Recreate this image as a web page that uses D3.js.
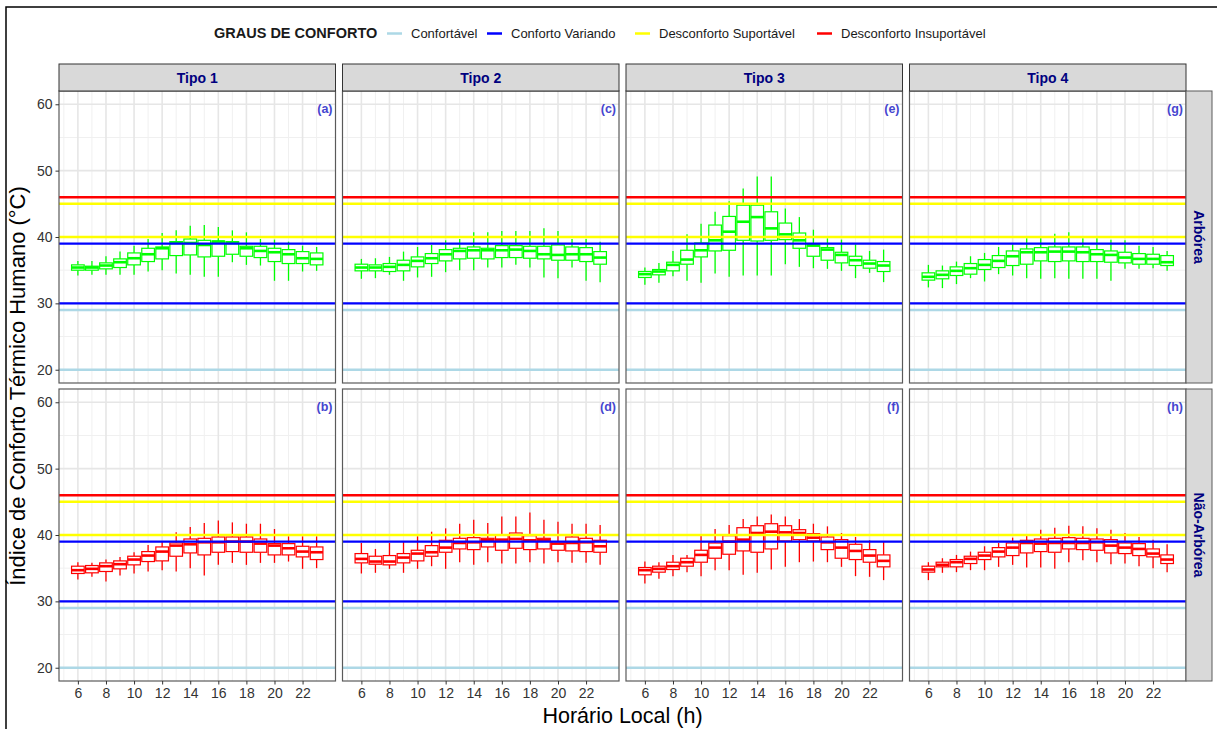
<!DOCTYPE html>
<html>
<head>
<meta charset="utf-8">
<script src="https://cdn.jsdelivr.net/npm/d3@7"></script>
<style>
  body { margin: 0; background: #fff; }
  svg { display: block; font-family: "Liberation Sans", Arial, sans-serif; }
</style>
</head>
<body>
<svg id="chart" width="1217" height="729"></svg>
<script>
// Hours of the day (local time) on the x axis
const hours = [6, 7, 8, 9, 10, 11, 12, 13, 14, 15, 16, 17, 18, 19, 20, 21, 22, 23];
const xTicks = [6, 8, 10, 12, 14, 16, 18, 20, 22];
const yTicks = [20, 30, 40, 50, 60];

const tipos = ["Tipo 1", "Tipo 2", "Tipo 3", "Tipo 4"];
const coberturas = ["Arbórea", "Não-Arbórea"];

// Comfort classes and their threshold lines (ºC)
const comfortLevels = ["Confortável", "Conforto Variando", "Desconforto Suportável", "Desconforto Insuportável"];
const comfortColors = ["#add8e6", "#0000ff", "#ffff00", "#ff0000"];
const comfortLimits = [[20, 29], [30, 39], [40, 45], [46]];

// Box statistics per hour: [lower whisker, Q1, median, Q3, upper whisker]
const arboreaTipo1 = [
  [34.2, 35.0, 35.4, 35.8, 36.4], [34.3, 35.0, 35.4, 35.6, 36.4], [34.3, 35.2, 35.7, 36.1, 37.1],
  [34.3, 35.4, 36.2, 36.7, 37.8], [34.3, 35.8, 36.8, 37.6, 38.7], [34.8, 36.3, 37.4, 38.3, 39.7],
  [35.0, 36.7, 38.3, 38.5, 40.6], [34.5, 37.2, 39.1, 39.3, 41.0], [34.3, 37.3, 39.1, 39.7, 41.7],
  [34.0, 37.0, 38.8, 39.5, 41.8], [34.0, 37.1, 39.3, 39.4, 41.5], [36.2, 37.4, 39.1, 39.3, 41.0],
  [35.8, 37.1, 38.3, 38.6, 40.7], [35.7, 36.9, 37.9, 38.6, 39.7], [33.4, 36.3, 37.7, 38.3, 39.6],
  [33.4, 36.0, 37.4, 38.1, 39.3], [34.8, 36.0, 36.8, 37.8, 38.7], [34.9, 35.8, 36.7, 37.6, 38.5]
];
const arboreaTipo2 = [
  [33.7, 34.9, 35.4, 35.9, 36.7], [33.8, 34.9, 35.4, 35.8, 36.8], [34.3, 34.8, 35.5, 36.0, 37.0],
  [33.4, 34.9, 35.8, 36.5, 37.8], [33.9, 35.5, 36.4, 37.0, 38.5], [34.0, 36.0, 36.8, 37.5, 38.8],
  [34.7, 36.4, 37.4, 38.1, 39.5], [35.0, 36.7, 37.9, 38.3, 39.7], [35.0, 36.8, 38.0, 38.5, 40.7],
  [35.4, 36.7, 38.0, 38.3, 40.7], [35.4, 36.9, 38.0, 38.7, 40.9], [35.8, 36.9, 38.1, 38.7, 40.9],
  [35.4, 36.8, 37.9, 38.6, 40.9], [33.9, 36.7, 37.4, 38.6, 41.3], [33.8, 36.5, 37.3, 38.8, 40.9],
  [35.4, 36.5, 37.4, 38.5, 39.7], [33.4, 36.3, 37.4, 38.4, 39.7], [33.2, 35.9, 36.9, 37.8, 39.3]
];
const arboreaTipo3 = [
  [32.8, 33.9, 34.4, 34.8, 35.4], [33.1, 34.3, 34.8, 35.1, 36.1], [34.1, 34.9, 35.8, 36.2, 37.9],
  [33.4, 35.9, 36.6, 38.0, 40.4], [33.1, 37.0, 38.0, 39.1, 42.0], [34.5, 37.9, 39.5, 41.8, 43.8],
  [34.0, 38.0, 40.8, 43.1, 45.4], [34.2, 39.5, 42.3, 44.8, 47.3], [34.2, 39.4, 43.0, 44.8, 49.1],
  [34.2, 39.5, 41.3, 43.8, 49.1], [35.9, 39.6, 40.4, 42.1, 44.3], [35.5, 38.3, 39.5, 40.6, 43.0],
  [35.3, 37.1, 38.7, 38.8, 41.1], [35.2, 36.5, 38.1, 38.4, 39.8], [34.9, 36.1, 37.3, 37.7, 39.6],
  [33.8, 35.7, 36.5, 37.1, 38.9], [34.6, 35.3, 36.0, 36.5, 37.9], [33.2, 34.8, 35.7, 36.3, 38.1]
];
const arboreaTipo4 = [
  [32.4, 33.5, 34.0, 34.6, 35.8], [32.3, 33.7, 34.3, 34.9, 35.7], [32.9, 34.2, 34.9, 35.5, 36.3],
  [33.8, 34.4, 35.3, 36.0, 37.1], [33.3, 35.1, 35.8, 36.6, 37.6], [34.4, 35.4, 36.4, 37.2, 38.5],
  [34.2, 35.7, 37.1, 37.9, 38.9], [33.8, 35.9, 37.7, 38.2, 39.8], [33.7, 36.4, 37.7, 38.4, 39.8],
  [33.8, 36.3, 37.8, 38.5, 40.5], [33.7, 36.4, 37.8, 38.5, 40.7], [33.7, 36.3, 37.7, 38.5, 39.8],
  [33.7, 36.3, 37.4, 38.1, 39.8], [33.4, 36.2, 37.3, 37.9, 39.6], [35.2, 36.1, 36.9, 37.7, 39.5],
  [35.2, 35.9, 36.7, 37.5, 38.7], [35.3, 35.9, 36.7, 37.4, 38.5], [34.9, 35.7, 36.2, 37.2, 37.9]
];
const naoArboreaTipo1 = [
  [33.3, 34.2, 34.7, 35.3, 35.9], [33.7, 34.3, 34.9, 35.4, 35.8], [33.0, 34.5, 35.3, 35.8, 36.3],
  [33.9, 34.9, 35.6, 36.1, 36.7], [34.2, 35.5, 36.3, 36.8, 37.4], [34.5, 36.0, 36.9, 37.5, 38.5],
  [34.7, 36.1, 37.5, 38.2, 39.0], [34.5, 36.8, 38.4, 38.8, 40.4], [35.0, 37.3, 38.6, 39.4, 41.2],
  [33.9, 37.0, 38.9, 39.5, 41.8], [35.5, 37.4, 38.9, 39.7, 42.2], [35.8, 37.5, 39.0, 39.7, 41.9],
  [35.5, 37.4, 39.0, 39.7, 41.7], [35.8, 37.4, 38.7, 39.4, 41.7], [35.8, 37.0, 38.4, 38.7, 40.9],
  [36.0, 37.0, 38.0, 38.7, 39.8], [34.9, 36.7, 37.5, 38.3, 39.8], [35.0, 36.3, 37.4, 38.2, 39.8]
];
const naoArboreaTipo2 = [
  [34.2, 35.8, 36.4, 37.2, 38.8], [34.3, 35.6, 36.0, 36.8, 37.9], [34.9, 35.5, 36.0, 36.9, 38.8],
  [34.3, 35.8, 36.6, 37.2, 39.0], [34.9, 36.1, 37.2, 37.7, 39.8], [35.3, 36.8, 37.4, 38.4, 40.5],
  [34.9, 37.4, 38.1, 39.2, 41.0], [35.9, 37.9, 38.8, 39.5, 41.7], [35.5, 37.8, 38.9, 39.6, 42.3],
  [35.9, 38.2, 39.2, 39.5, 41.8], [35.7, 37.7, 39.3, 40.0, 42.8], [35.7, 38.0, 39.4, 40.3, 42.8],
  [35.9, 37.8, 39.2, 39.9, 43.4], [35.7, 37.9, 39.2, 39.5, 42.3], [35.9, 37.7, 38.7, 39.0, 42.0],
  [35.8, 37.6, 38.8, 39.7, 41.7], [35.8, 37.5, 38.9, 39.5, 41.7], [35.5, 37.4, 38.3, 39.2, 41.5]
];
const naoArboreaTipo3 = [
  [32.7, 34.0, 34.7, 35.1, 36.0], [33.4, 34.4, 34.9, 35.3, 35.9], [33.8, 34.8, 35.3, 35.9, 37.0],
  [34.4, 35.3, 35.9, 36.5, 37.0], [33.8, 35.9, 37.0, 37.7, 40.1], [34.7, 36.5, 38.1, 38.8, 40.9],
  [34.7, 37.1, 39.0, 39.9, 41.5], [34.0, 37.6, 39.3, 41.1, 42.4], [34.3, 37.4, 40.3, 41.4, 42.8],
  [34.8, 37.9, 40.5, 41.7, 43.1], [35.2, 39.1, 40.4, 41.4, 42.8], [35.9, 39.3, 40.3, 40.8, 42.4],
  [36.0, 39.1, 39.6, 40.2, 41.7], [35.9, 37.8, 38.9, 39.7, 41.3], [35.2, 36.5, 38.1, 39.3, 40.3],
  [33.8, 36.3, 37.6, 38.6, 39.7], [33.7, 35.9, 36.9, 37.8, 39.2], [33.2, 35.2, 36.1, 37.0, 39.0]
];
const naoArboreaTipo4 = [
  [33.2, 34.4, 34.8, 35.3, 35.9], [34.3, 35.2, 35.5, 35.9, 36.5], [34.4, 35.2, 35.9, 36.3, 37.0],
  [34.7, 35.7, 36.4, 36.8, 37.5], [34.7, 36.3, 36.9, 37.4, 38.3], [35.2, 36.7, 37.5, 38.1, 38.8],
  [35.5, 36.9, 38.1, 38.8, 39.6], [35.1, 37.3, 38.8, 39.2, 39.9], [35.1, 37.5, 38.7, 39.4, 40.8],
  [34.9, 37.4, 38.8, 39.5, 41.1], [35.9, 37.9, 38.8, 39.6, 41.4], [36.2, 37.8, 38.8, 39.5, 41.3],
  [35.9, 37.7, 38.9, 39.4, 41.0], [35.6, 37.3, 38.4, 39.3, 40.8], [35.7, 37.2, 38.1, 38.8, 40.3],
  [35.3, 36.9, 37.9, 38.7, 39.7], [35.0, 36.7, 37.2, 37.9, 39.3], [34.4, 35.7, 36.3, 37.0, 38.6]
];

const rowSeries = [
  [arboreaTipo1, arboreaTipo2, arboreaTipo3, arboreaTipo4],
  [naoArboreaTipo1, naoArboreaTipo2, naoArboreaTipo3, naoArboreaTipo4]
];
const rowBoxColors = ["#00ff00", "#ff0000"];
const panelTags = [["(a)", "(c)", "(e)", "(g)"], ["(b)", "(d)", "(f)", "(h)"]];

// ---- layout ----
const svg = d3.select("#chart");
const plotLeft = 59, plotRight = 1186, colGap = 7;
const panelW = (plotRight - plotLeft - 3 * colGap) / 4;
const rowTops = [91, 389], panelH = 292;
const stripH = 27, sideStripW = 26;
const navy = "#00007f";

// outer frame
svg.append("rect").attr("x", 6).attr("y", 7).attr("width", 1300).attr("height", 800)
  .attr("fill", "none").attr("stroke", "#000").attr("stroke-width", 1.5);

// ---- legend ----
const legend = svg.append("g");
legend.append("text").attr("x", 214).attr("y", 38)
  .attr("font-size", 14.5).attr("font-weight", "bold").attr("fill", "#1a1a1a")
  .text("GRAUS DE CONFORTO");
const legendKeyX = [387, 487, 635, 817];
comfortLevels.forEach((name, i) => {
  legend.append("line").attr("x1", legendKeyX[i]).attr("x2", legendKeyX[i] + 15)
    .attr("y1", 33.5).attr("y2", 33.5)
    .attr("stroke", comfortColors[i]).attr("stroke-width", 2.5);
  legend.append("text").attr("x", legendKeyX[i] + 24).attr("y", 38)
    .attr("font-size", 13).attr("fill", "#1a1a1a").text(name);
});

const xDomain = [4.655, 24.345];
const yDomain = [18, 62];
const xMinor = d3.range(5, 24, 2);
const yMinor = [25, 35, 45, 55];

rowTops.forEach((top, r) => {
  const y = d3.scaleLinear().domain(yDomain).range([top + panelH, top]);
  tipos.forEach((tipo, c) => {
    const left = plotLeft + c * (panelW + colGap);
    const x = d3.scaleLinear().domain(xDomain).range([left, left + panelW]);
    const g = svg.append("g");

    // panel background and grid
    g.append("rect").attr("x", left).attr("y", top).attr("width", panelW).attr("height", panelH)
      .attr("fill", "#fff");
    g.selectAll(".vminor").data(xMinor).join("line")
      .attr("x1", d => x(d)).attr("x2", d => x(d)).attr("y1", top).attr("y2", top + panelH)
      .attr("stroke", "#f0f0f0").attr("stroke-width", 1);
    g.selectAll(".hminor").data(yMinor).join("line")
      .attr("x1", left).attr("x2", left + panelW).attr("y1", d => y(d)).attr("y2", d => y(d))
      .attr("stroke", "#f0f0f0").attr("stroke-width", 1);
    g.selectAll(".vmajor").data(xTicks).join("line")
      .attr("x1", d => x(d)).attr("x2", d => x(d)).attr("y1", top).attr("y2", top + panelH)
      .attr("stroke", "#e6e6e6").attr("stroke-width", 1.6);
    g.selectAll(".hmajor").data(yTicks).join("line")
      .attr("x1", left).attr("x2", left + panelW).attr("y1", d => y(d)).attr("y2", d => y(d))
      .attr("stroke", "#e6e6e6").attr("stroke-width", 1.6);

    // boxplots
    const color = rowBoxColors[r];
    const stats = rowSeries[r][c];
    const half = 0.45;
    const boxes = g.append("g").selectAll("g").data(stats).join("g");
    boxes.append("line")
      .attr("x1", (d, i) => x(hours[i])).attr("x2", (d, i) => x(hours[i]))
      .attr("y1", d => y(d[4])).attr("y2", d => y(d[3]))
      .attr("stroke", color).attr("stroke-width", 1.3);
    boxes.append("line")
      .attr("x1", (d, i) => x(hours[i])).attr("x2", (d, i) => x(hours[i]))
      .attr("y1", d => y(d[1])).attr("y2", d => y(d[0]))
      .attr("stroke", color).attr("stroke-width", 1.3);
    boxes.append("rect")
      .attr("x", (d, i) => x(hours[i] - half))
      .attr("width", (d, i) => x(hours[i] + half) - x(hours[i] - half))
      .attr("y", d => y(d[3])).attr("height", d => y(d[1]) - y(d[3]))
      .attr("fill", "#fff").attr("stroke", color).attr("stroke-width", 1.2);
    boxes.append("line")
      .attr("x1", (d, i) => x(hours[i] - half)).attr("x2", (d, i) => x(hours[i] + half))
      .attr("y1", d => y(d[2])).attr("y2", d => y(d[2]))
      .attr("stroke", color).attr("stroke-width", 2.6);

    // comfort threshold lines
    comfortLimits.forEach((vals, k) => {
      g.selectAll(null).data(vals).join("line")
        .attr("x1", left).attr("x2", left + panelW)
        .attr("y1", d => y(d)).attr("y2", d => y(d))
        .attr("stroke", comfortColors[k]).attr("stroke-width", 2.4);
    });

    // panel border
    g.append("rect").attr("x", left).attr("y", top).attr("width", panelW).attr("height", panelH)
      .attr("fill", "none").attr("stroke", "#5a5a5a").attr("stroke-width", 1.2);

    // panel tag
    g.append("text").attr("x", left + panelW - 3).attr("y", top + 22)
      .attr("text-anchor", "end").attr("font-size", 12.5).attr("font-weight", "bold")
      .attr("fill", "#4646cf").text(panelTags[r][c]);

    // column strip
    if (r === 0) {
      svg.append("rect").attr("x", left).attr("y", top - stripH).attr("width", panelW).attr("height", stripH)
        .attr("fill", "#d9d9d9").attr("stroke", "#333").attr("stroke-width", 1);
      svg.append("text").attr("x", left + panelW / 2).attr("y", top - stripH / 2 + 5)
        .attr("text-anchor", "middle").attr("font-size", 14).attr("font-weight", "bold")
        .attr("fill", navy).text(tipo);
    }

    // y axis on the first column
    if (c === 0) {
      const ay = svg.append("g").attr("transform", `translate(${left},0)`)
        .call(d3.axisLeft(y).tickValues(yTicks).tickSize(3.5).tickPadding(3));
      ay.select(".domain").remove();
      ay.selectAll("line").attr("stroke", "#333");
      ay.selectAll("text").attr("font-size", 14).attr("fill", "#333")
        .attr("font-family", "'Liberation Sans', Arial, sans-serif");
    }
    // x axis on the bottom row
    if (r === 1) {
      const ax = svg.append("g").attr("transform", `translate(0,${top + panelH})`)
        .call(d3.axisBottom(x).tickValues(xTicks).tickSize(3.5).tickPadding(4));
      ax.select(".domain").remove();
      ax.selectAll("line").attr("stroke", "#333");
      ax.selectAll("text").attr("font-size", 14).attr("fill", "#333")
        .attr("font-family", "'Liberation Sans', Arial, sans-serif");
    }
  });

  // row strip on the right
  svg.append("rect").attr("x", plotRight).attr("y", top).attr("width", sideStripW).attr("height", panelH)
    .attr("fill", "#d9d9d9").attr("stroke", "#5a5a5a").attr("stroke-width", 1);
  svg.append("text")
    .attr("transform", `translate(${plotRight + sideStripW / 2 - 5},${top + panelH / 2}) rotate(90)`)
    .attr("text-anchor", "middle").attr("font-size", 14).attr("font-weight", "bold")
    .attr("fill", navy).text(coberturas[r]);
});

// axis titles
svg.append("text")
  .attr("transform", `translate(25,${(rowTops[0] + rowTops[1] + panelH) / 2}) rotate(-90)`)
  .attr("text-anchor", "middle").attr("font-size", 22).attr("fill", "#000")
  .text("Índice de Conforto Térmico Humano (°C)");
svg.append("text").attr("x", (plotLeft + plotRight) / 2).attr("y", 723)
  .attr("text-anchor", "middle").attr("font-size", 21.5).attr("fill", "#000")
  .text("Horário Local (h)");
</script>
</body>
</html>
